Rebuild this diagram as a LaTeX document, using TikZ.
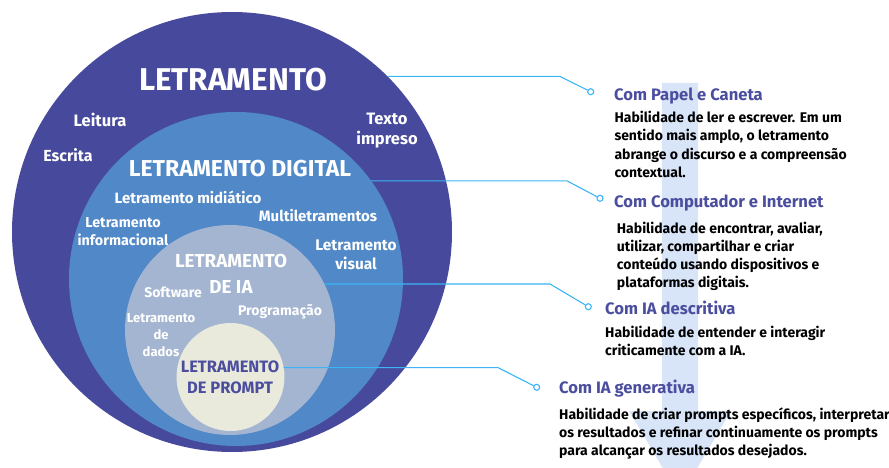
\documentclass[tikz,border=0pt]{standalone}
\usepackage{fontspec}
\setmainfont{Fira Sans}
\definecolor{cOuter}{HTML}{474A9C}
\definecolor{cDig}{HTML}{5088C8}
\definecolor{cIA}{HTML}{A4B5D2}
\definecolor{cPrompt}{HTML}{EAEADC}
\definecolor{cLine}{HTML}{3CB4F5}
\definecolor{cHead}{HTML}{4B4E9E}
\definecolor{cArrow}{HTML}{D8E4F8}
\newcommand{\fsz}[2]{\bfseries\fontsize{#1}{#2}\selectfont}
\begin{document}
\begin{tikzpicture}[x={(1pt,0)},y={(0,-1pt)},
  circ/.style={circle,inner sep=0pt,outer sep=0pt},
  lab/.style={text=white,inner sep=0pt,anchor=base,align=center},
  head/.style={text=cHead,font=\fsz{16.6}{18},inner sep=0pt,anchor=base west},
  body/.style={text=black,font=\fsz{14}{18.2},inner sep=0pt,anchor=base west,align=left},
  conn/.style={draw=cLine,line width=1.1pt},
  dot/.style={circle,draw=cLine,fill=white,line width=1.1pt,inner sep=0pt,minimum size=6pt}]
\useasboundingbox (0,0) rectangle (889,468);
\clip (0,0) rectangle (889,468);
% background arrow
\fill[cArrow] (662,83) -- (698,83) -- (698,411) -- (731,411) -- (680,497) -- (629,411) -- (662,411) -- cycle;
% circles
\node[circ,fill=cOuter,minimum size=440pt] (outer) at (232,232) {};
\node[circ,fill=cDig,minimum size=334pt] (dig) at (236,279) {};
\node[circ,fill=cIA,minimum size=210pt] (ia) at (230,330) {};
\node[circ,fill=cPrompt,minimum size=108pt] (prompt) at (230.5,377) {};
% circle labels (multi-line nodes placed at the baseline of their last line)
\node[lab,font=\fsz{31.5}{32}] (tL) at (233,91) {LETRAMENTO};
\node[lab,font=\fsz{16.5}{17}] (tLeit) at (100,127) {Leitura};
\node[lab,font=\fsz{16}{17}] (tEsc) at (68,162) {Escrita};
\node[lab,font=\fsz{16.5}{20}] (tTex) at (387,145) {Texto\\impreso};
\node[lab,font=\fsz{23}{24}] (tD) at (240,176) {LETRAMENTO DIGITAL};
\node[lab,font=\fsz{15}{16}] (tMid) at (188,203.5) {Letramento midiático};
\node[lab,font=\fsz{15}{16}] (tMul) at (318,221.5) {Multiletramentos};
\node[lab,font=\fsz{14.3}{18}] (tInf) at (123,245) {Letramento\\informacional};
\node[lab,font=\fsz{15.4}{19}] (tVis) at (356,269.5) {Letramento\\visual};
\node[lab,font=\fsz{18.8}{26}] (tIA) at (231,293.5) {LETRAMENTO\\DE IA};
\node[lab,font=\fsz{14}{15}] (tSoft) at (173,297) {Software};
\node[lab,font=\fsz{14}{15}] (tProg) at (280,315.5) {Programação};
\node[lab,font=\fsz{13}{17}] (tDad) at (161,356) {Letramento\\de\\dados};
\node[lab,text=cHead,font=\fsz{16.5}{21}] (tP) at (230,393.5) {LETRAMENTO\\DE PROMPT};
% connectors
\node[dot] (d1) at (590.7,91.7) {};
\node[dot] (d2) at (600,198.3) {};
\node[dot] (d3) at (588.3,306.7) {};
\node[dot] (d4) at (536.7,387.3) {};
\coordinate (b1) at (560,0);
\coordinate (b2) at (567,0);
\coordinate (b3) at (550,0);
\coordinate (b4) at (498,0);
\draw[conn] (outer.45.9) -- (outer.45.9 -| b1) -- (d1);
\draw[conn] (dig.36.4) -- (dig.36.4 -| b2) -- (d2);
\draw[conn] (ia.26.6) -- (ia.26.6 -| b3) -- (d3);
\draw[conn] (prompt.10.7) -- (prompt.10.7 -| b4) -- (d4);
% right texts
\node[head] (h1) at (614,100.7) {Com Papel e Caneta};
\node[body] (x1) at (614.3,177.3) {Habilidade de ler e escrever. Em um\\sentido mais amplo, o letramento\\abrange o discurso e a compreensão\\contextual.};
\node[head] (h2) at (614,207.3) {Com Computador e Internet};
\node[body] (x2) at (616.7,287.7) {Habilidade de encontrar, avaliar,\\utilizar, compartilhar e criar\\conteúdo usando dispositivos e\\plataformas digitais.};
\node[head] (h3) at (605,314.3) {Com IA descritiva};
\node[body] (x3) at (605,355.7) {Habilidade de entender e interagir\\criticamente com a IA.};
\node[head] (h4) at (559,393.3) {Com IA generativa};
\node[body] (x4) at (559,455.7) {Habilidade de criar prompts específicos, interpretar\\os resultados e refinar continuamente os prompts\\para alcançar os resultados desejados.};
\end{tikzpicture}
\end{document}
